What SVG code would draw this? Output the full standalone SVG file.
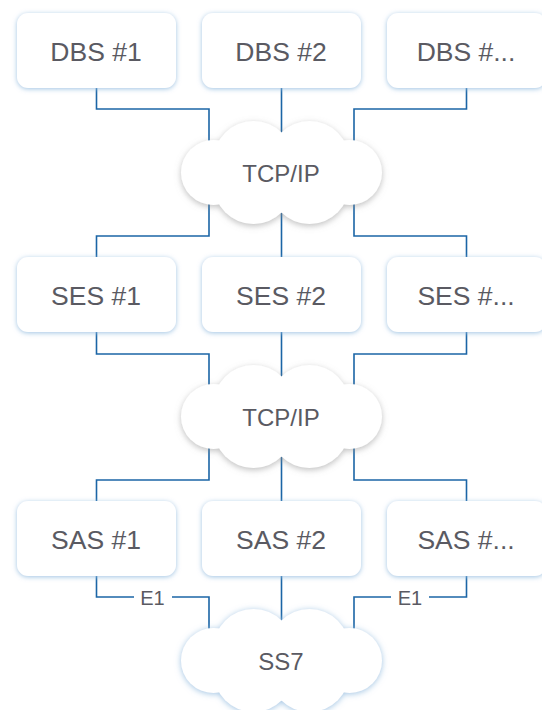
<svg xmlns="http://www.w3.org/2000/svg" xmlns:xlink="http://www.w3.org/1999/xlink" width="542" height="710" viewBox="0 0 542 710">
  <defs>
    <filter id="boxGlow" x="-20%" y="-30%" width="140%" height="160%">
      <feDropShadow dx="0" dy="1" stdDeviation="2.5" flood-color="#94bde0" flood-opacity="0.9"/>
    </filter>
    <filter id="cloudGray" x="-20%" y="-30%" width="140%" height="160%">
      <feDropShadow dx="0" dy="2" stdDeviation="3" flood-color="#8a8a8a" flood-opacity="0.55"/>
    </filter>
    <filter id="cloudBlue" x="-20%" y="-30%" width="140%" height="160%">
      <feDropShadow dx="0" dy="1" stdDeviation="3" flood-color="#94bde0" flood-opacity="0.9"/>
    </filter>
    <g id="cloudShape">
      <circle cx="-68" cy="0" r="32.5"/>
      <circle cx="68" cy="0" r="32.5"/>
      <circle cx="-28" cy="-11.5" r="40"/>
      <circle cx="28" cy="-11.5" r="40"/>
      <circle cx="-28" cy="11.5" r="40"/>
      <circle cx="28" cy="11.5" r="40"/>
    </g>
  </defs>
  <style>
    .box { fill: #ffffff; filter: url(#boxGlow); }
    .cloud { fill: #ffffff; }
    .lbl { font-family: "Liberation Sans", Arial, sans-serif; font-size: 26.5px; fill: #5a5a62; text-anchor: middle; }
    .clbl { font-family: "Liberation Sans", Arial, sans-serif; font-size: 24px; fill: #5a5a62; text-anchor: middle; }
    .elbl { font-family: "Liberation Sans", Arial, sans-serif; font-size: 20px; fill: #5a5a62; text-anchor: middle; }
    .conn { fill: none; stroke: #1b65a6; stroke-width: 1.6; }
  </style>
  <rect width="542" height="710" fill="#ffffff"/>

  <g id="connectors">
    <polyline class="conn" points="96.5,88 96.5,109 209,109 209,150"/>
    <polyline class="conn" points="281.5,88 281.5,140"/>
    <polyline class="conn" points="466.5,88 466.5,109 354,109 354,150"/>
    <polyline class="conn" points="209,195 209,236 96.5,236 96.5,257"/>
    <polyline class="conn" points="281.5,205 281.5,257"/>
    <polyline class="conn" points="354,195 354,236 466.5,236 466.5,257"/>
    <polyline class="conn" points="96.5,332 96.5,354 209,354 209,394"/>
    <polyline class="conn" points="281.5,332 281.5,384"/>
    <polyline class="conn" points="466.5,332 466.5,354 354,354 354,394"/>
    <polyline class="conn" points="209,439 209,480 96.5,480 96.5,501"/>
    <polyline class="conn" points="281.5,449 281.5,501"/>
    <polyline class="conn" points="354,439 354,480 466.5,480 466.5,501"/>
    <polyline class="conn" points="96.5,576 96.5,597 134,597"/>
    <polyline class="conn" points="172,597 209,597 209,640"/>
    <polyline class="conn" points="281.5,576 281.5,630"/>
    <polyline class="conn" points="466.5,576 466.5,597 429,597"/>
    <polyline class="conn" points="391,597 354,597 354,640"/>
    <text class="elbl" x="152.5" y="605">E1</text>
    <text class="elbl" x="410" y="605">E1</text>
  </g>

  <g id="dbs1"><rect class="box" x="17" y="13" width="159" height="75" rx="11"/><text class="lbl" x="96" y="60.5">DBS #1</text></g>
  <g id="dbs2"><rect class="box" x="202" y="13" width="159" height="75" rx="11"/><text class="lbl" x="281" y="60.5">DBS #2</text></g>
  <g id="dbs3"><rect class="box" x="387" y="13" width="159" height="75" rx="11"/><text class="lbl" x="466" y="60.5">DBS #...</text></g>

  <g id="tcpip1"><use href="#cloudShape" xlink:href="#cloudShape" class="cloud" x="281.5" y="172.5" filter="url(#cloudGray)"/><text class="clbl" x="281" y="181.5">TCP/IP</text></g>

  <g id="ses1"><rect class="box" x="17" y="257" width="159" height="75" rx="11"/><text class="lbl" x="96" y="304.5">SES #1</text></g>
  <g id="ses2"><rect class="box" x="202" y="257" width="159" height="75" rx="11"/><text class="lbl" x="281" y="304.5">SES #2</text></g>
  <g id="ses3"><rect class="box" x="387" y="257" width="159" height="75" rx="11"/><text class="lbl" x="466" y="304.5">SES #...</text></g>

  <g id="tcpip2"><use href="#cloudShape" xlink:href="#cloudShape" class="cloud" x="281.5" y="416.5" filter="url(#cloudGray)"/><text class="clbl" x="281" y="425.5">TCP/IP</text></g>

  <g id="sas1"><rect class="box" x="17" y="501" width="159" height="75" rx="11"/><text class="lbl" x="96" y="548.5">SAS #1</text></g>
  <g id="sas2"><rect class="box" x="202" y="501" width="159" height="75" rx="11"/><text class="lbl" x="281" y="548.5">SAS #2</text></g>
  <g id="sas3"><rect class="box" x="387" y="501" width="159" height="75" rx="11"/><text class="lbl" x="466" y="548.5">SAS #...</text></g>

  <g id="ss7"><use href="#cloudShape" xlink:href="#cloudShape" class="cloud" x="281.5" y="660.5" filter="url(#cloudBlue)"/><text class="clbl" x="281" y="669.5">SS7</text></g>
</svg>
